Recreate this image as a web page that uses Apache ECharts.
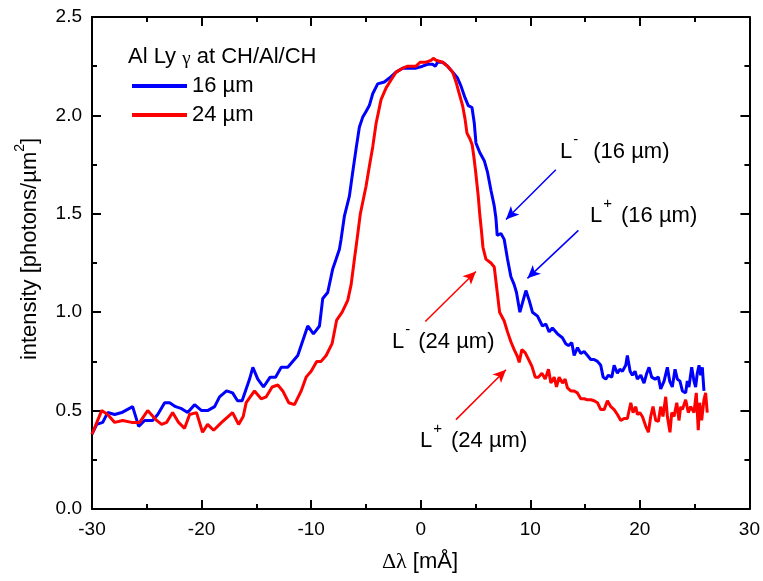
<!DOCTYPE html>
<html><head><meta charset="utf-8">
<script src="https://cdn.jsdelivr.net/npm/echarts@6/dist/echarts.min.js"></script>
<style>html,body{margin:0;padding:0;background:#fff}#c{width:763px;height:581px}</style>
</head><body><div id="c"></div>
<script>
// ---- data ----
const seriesNames = ['16 µm', '24 µm'];
const xTicks = [-30, -20, -10, 0, 10, 20, 30];
const yTicks = [0.0, 0.5, 1.0, 1.5, 2.0, 2.5];

const blueX = [-30.0,-29.57,-29.02,-28.57,-27.93,-27.29,-26.29,-25.74,-25.20,-24.47,
-24.00,-23.37,-22.92,-22.37,-21.82,-21.27,-20.64,-20.00,-19.45,-18.81,
-18.36,-17.72,-17.17,-16.72,-16.30,-15.62,-15.32,-14.87,-14.35,-13.74,
-13.25,-12.73,-12.13,-11.22,-10.31,-9.79,-9.24,-8.94,-8.49,-8.03,
-7.72,-7.42,-7.27,-6.96,-6.51,-6.21,-5.90,-5.60,-5.30,-4.99,
-4.69,-4.38,-3.93,-3.32,-2.86,-2.25,-1.65,-1.04,-0.43,0.17,
0.63,1.08,1.33,1.54,2.00,2.45,3.06,3.36,3.67,4.04,
4.34,4.68,4.89,5.04,5.40,5.80,6.10,6.41,6.71,6.86,
6.98,7.32,7.62,7.92,8.23,8.53,8.74,9.05,9.35,9.60,
9.90,10.20,10.66,11.11,11.42,11.72,12.02,12.48,12.93,13.24,
13.49,13.79,14.00,14.31,14.61,14.91,15.22,15.52,15.82,16.13,
16.43,16.65,16.89,17.13,17.44,17.65,17.95,18.17,18.41,18.71,
18.86,19.11,19.32,19.56,19.77,20.08,20.38,20.63,20.84,21.08,
21.39,21.69,21.90,22.21,22.51,22.72,22.96,23.21,23.42,23.66,
23.88,24.18,24.33,24.48,24.73,24.94,25.09,25.24,25.40,25.55,
25.70,25.85];
const blueY = [0.38,0.43,0.44,0.49,0.48,0.49,0.52,0.42,0.45,0.45,
0.48,0.54,0.54,0.52,0.51,0.49,0.53,0.50,0.50,0.52,
0.57,0.60,0.59,0.55,0.55,0.66,0.72,0.66,0.62,0.67,
0.67,0.72,0.72,0.78,0.93,0.89,0.93,1.07,1.10,1.22,
1.27,1.32,1.37,1.49,1.59,1.71,1.83,1.94,1.99,2.02,
2.05,2.11,2.16,2.17,2.19,2.22,2.24,2.24,2.24,2.25,
2.26,2.26,2.25,2.27,2.27,2.25,2.21,2.19,2.15,2.09,
2.05,2.04,1.96,1.86,1.81,1.77,1.71,1.62,1.54,1.48,
1.39,1.40,1.37,1.27,1.18,1.14,1.10,1.00,1.06,1.11,
1.06,1.00,0.98,0.93,0.94,0.90,0.92,0.89,0.87,0.84,
0.83,0.845,0.78,0.82,0.79,0.80,0.78,0.76,0.76,0.75,
0.73,0.67,0.66,0.68,0.67,0.73,0.69,0.71,0.70,0.73,
0.78,0.70,0.68,0.70,0.66,0.68,0.64,0.69,0.72,0.67,
0.66,0.67,0.61,0.65,0.72,0.65,0.62,0.71,0.66,0.65,
0.60,0.59,0.65,0.62,0.72,0.65,0.62,0.69,0.73,0.68,
0.72,0.60];

const redX = [-30.0,-29.12,-28.57,-27.93,-27.20,-26.38,-25.65,-24.92,-24.10,-23.65,
-23.19,-22.64,-22.10,-21.55,-21.09,-20.46,-19.91,-19.45,-18.90,-18.17,
-17.17,-16.62,-16.20,-15.93,-15.17,-14.56,-14.10,-13.56,-13.04,-12.59,
-12.04,-11.52,-10.91,-10.46,-10.00,-9.49,-9.09,-8.63,-8.09,-7.67,
-7.17,-6.66,-6.35,-6.05,-5.81,-5.51,-4.99,-4.69,-4.38,-4.07,
-3.62,-3.16,-2.71,-2.25,-1.65,-1.19,-0.43,-0.06,0.48,0.94,
1.15,1.40,2.00,2.45,2.91,3.22,3.52,3.82,4.05,4.22,
4.50,4.70,4.85,5.02,5.25,5.40,5.55,5.68,5.95,6.41,
6.71,6.86,7.05,7.20,7.62,7.92,8.23,8.53,8.83,8.99,
9.23,9.53,9.84,10.15,10.45,10.75,11.06,11.36,11.66,11.88,
12.18,12.39,12.63,12.94,13.18,13.39,13.70,14.00,14.30,14.61,
14.91,15.21,15.52,15.82,16.13,16.43,16.74,17.04,17.35,17.65,
17.95,18.26,18.56,18.86,19.17,19.38,19.63,19.77,19.99,20.23,
20.54,20.78,20.99,21.20,21.45,21.69,21.90,22.11,22.36,22.51,
22.75,22.91,23.12,23.37,23.57,23.73,23.88,24.18,24.42,24.64,
24.94,25.15,25.33,25.46,25.64,25.85,26.00,26.15];
const redY = [0.38,0.50,0.48,0.44,0.45,0.44,0.44,0.50,0.45,0.43,
0.44,0.49,0.44,0.41,0.48,0.49,0.39,0.43,0.40,0.44,
0.49,0.43,0.47,0.54,0.60,0.56,0.57,0.62,0.63,0.60,
0.54,0.53,0.60,0.67,0.70,0.75,0.75,0.78,0.84,0.96,
1.00,1.06,1.14,1.27,1.37,1.50,1.64,1.74,1.84,1.96,
2.08,2.14,2.18,2.22,2.24,2.25,2.25,2.27,2.27,2.28,
2.29,2.28,2.27,2.25,2.22,2.17,2.11,2.05,1.98,1.91,
1.88,1.85,1.79,1.71,1.59,1.49,1.41,1.33,1.27,1.25,
1.23,1.16,1.07,1.00,0.955,0.90,0.85,0.81,0.775,0.745,
0.81,0.795,0.76,0.725,0.67,0.67,0.69,0.66,0.71,0.64,
0.67,0.62,0.67,0.64,0.66,0.615,0.60,0.60,0.59,0.56,
0.56,0.555,0.555,0.55,0.54,0.505,0.505,0.55,0.52,0.505,
0.48,0.45,0.46,0.46,0.54,0.49,0.52,0.48,0.49,0.47,
0.42,0.39,0.47,0.52,0.45,0.445,0.52,0.47,0.57,0.47,
0.39,0.49,0.47,0.54,0.45,0.52,0.505,0.555,0.49,0.52,
0.49,0.59,0.40,0.54,0.45,0.555,0.59,0.49];

// annotation arrows (data coords: from x, from y, to x, to y)
const blueArrows = [[12.33, 1.724, 7.78, 1.471], [14.39, 1.416, 9.74, 1.172]];
const redArrows  = [[0.42, 0.953, 5.04, 1.207], [3.22, 0.454, 7.78, 0.708]];

// ---- chart ----
const FONT = '"Liberation Sans", Arial, sans-serif';
const SERIF = '"Liberation Serif", "DejaVu Serif", serif';
const TF = 22; // text font size
const mctx = document.createElement('canvas').getContext('2d');
function tw(s, size, fam) { mctx.font = size + 'px ' + (fam || FONT); return mctx.measureText(s).width; }
function txt(x, y, s, size, fam) {
  return { type: 'text', x: x, y: y, silent: true,
    style: { text: s, fontSize: size, fontFamily: fam || FONT, fill: '#000', align: 'left', verticalAlign: 'middle' } };
}
function annot(x0, yc, sup, rest, gap) {
  const wL = tw('L', TF), wS = tw(sup, 15);
  return { type: 'group', children: [
    txt(x0, yc, 'L', TF),
    txt(x0 + wL + 1, yc - 12, sup, 15),
    txt(x0 + wL + 2 + wS + gap, yc, rest, TF)
  ] };
}
function yTitle() {
  const s1 = 'intensity [photons/µm', s2 = '2', s3 = ']';
  const w1 = tw(s1, TF), w2 = tw(s2, 14), w3 = tw(s3, TF), W = w1 + w2 + w3;
  return { type: 'group', x: 30, y: 249, rotation: Math.PI / 2, children: [
    txt(-W / 2, 0, s1, TF), txt(-W / 2 + w1, -10, s2, 14), txt(-W / 2 + w1 + w2, 0, s3, TF)
  ] };
}
function xTitle() {
  const a = 'Δλ', b = ' [mÅ]';
  const wa = tw(a, TF, SERIF), wb = tw(b, TF), W = wa + wb;
  return { type: 'group', x: 420, y: 562, children: [
    txt(-W / 2, 0, a, TF, SERIF), txt(-W / 2 + wa, 0, b, TF)
  ] };
}
function header() {
  const a = 'Al Ly ', g = 'γ', c = ' at CH/Al/CH';
  const wa = tw(a, TF), wg = tw(g, 19, SERIF);
  return { type: 'group', x: 128, y: 57, children: [
    txt(0, 0, a, TF), txt(wa, 2, g, 19, SERIF), txt(wa + wg, 0, c, TF)
  ] };
}

const lineAxis = { show: true, onZero: false, lineStyle: { color: '#000', width: 2 } };
const tick = { show: true, inside: true, length: 9, lineStyle: { color: '#000', width: 2 } };
const minor = { show: true, splitNumber: 2, length: 5, lineStyle: { color: '#000', width: 2 } };
const xMin = xTicks[0], xMax = xTicks[xTicks.length - 1], xInt = xTicks[1] - xTicks[0];
const yMin = yTicks[0], yMax = yTicks[yTicks.length - 1], yInt = yTicks[1] - yTicks[0];
const lbl = { color: '#000', fontSize: 19, fontFamily: FONT };

function arrowMark(arr, color) {
  return { silent: true, symbol: ['none', 'arrow'], symbolSize: [9, 13], animation: false,
    label: { show: false }, emphasis: { disabled: true },
    lineStyle: { color: color, width: 1.5, type: 'solid' },
    data: arr.map(a => [{ coord: [a[0], a[1]] }, { coord: [a[2], a[3]] }]) };
}

const chart = echarts.init(document.getElementById('c'));
chart.setOption({
  animation: false,
  backgroundColor: '#fff',
  grid: { left: 92, right: 10, top: 17, bottom: 72, containLabel: false },
  xAxis: [
    { type: 'value', min: xMin, max: xMax, interval: xInt, position: 'bottom',
      axisLine: lineAxis, axisTick: tick, minorTick: minor, splitLine: { show: false },
      axisLabel: Object.assign({ margin: 11 }, lbl) },
    { type: 'value', min: xMin, max: xMax, interval: xInt, position: 'top',
      axisLine: lineAxis, axisTick: tick, minorTick: minor, splitLine: { show: false },
      axisLabel: { show: false } }
  ],
  yAxis: [
    { type: 'value', min: yMin, max: yMax, interval: yInt, position: 'left',
      axisLine: lineAxis, axisTick: tick, minorTick: minor, splitLine: { show: false },
      axisLabel: Object.assign({ margin: 10, formatter: v => v.toFixed(1) }, lbl) },
    { type: 'value', min: yMin, max: yMax, interval: yInt, position: 'right',
      axisLine: lineAxis, axisTick: tick, minorTick: minor, splitLine: { show: false },
      axisLabel: { show: false } }
  ],
  legend: { orient: 'vertical', left: 127, top: 70, itemWidth: 55, itemHeight: 4, itemGap: 7,
    icon: 'rect', selectedMode: false, data: seriesNames,
    textStyle: { color: '#000', fontSize: TF, fontFamily: FONT } },
  series: [
    { name: seriesNames[0], type: 'line', showSymbol: false, symbol: 'none',
      data: blueX.map((x, i) => [x, blueY[i]]),
      lineStyle: { color: '#0000ff', width: 3 }, itemStyle: { color: '#0000ff' },
      markLine: arrowMark(blueArrows, '#0000ff') },
    { name: seriesNames[1], type: 'line', showSymbol: false, symbol: 'none',
      data: redX.map((x, i) => [x, redY[i]]),
      lineStyle: { color: '#ff0000', width: 3 }, itemStyle: { color: '#ff0000' },
      markLine: arrowMark(redArrows, '#ff0000') }
  ],
  graphic: [
    header(),
    yTitle(),
    xTitle(),
    annot(560, 152, '-', '(16 µm)', 14),
    annot(590, 216, '+', '(16 µm)', 8),
    annot(392, 342, '-', '(24 µm)', 7),
    annot(420, 441, '+', '(24 µm)', 8)
  ]
});
</script>
</body></html>
